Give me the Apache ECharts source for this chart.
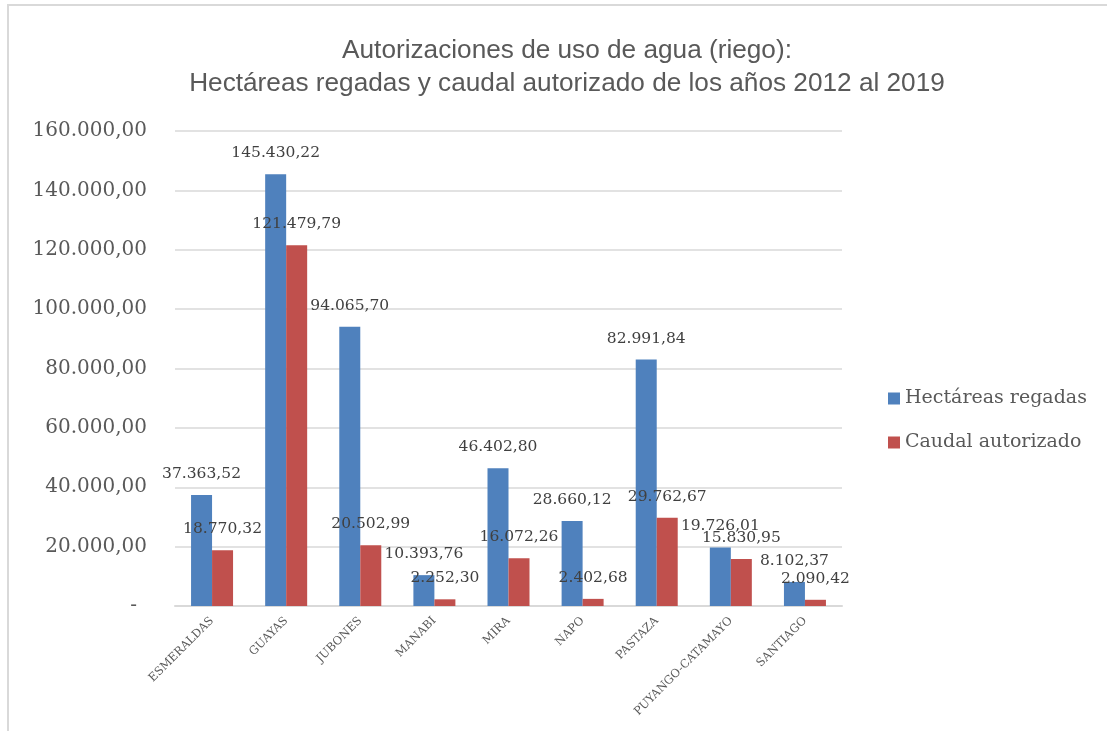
<!DOCTYPE html>
<html>
<head>
<meta charset="utf-8">
<script src="https://cdn.jsdelivr.net/npm/echarts@6/dist/echarts.min.js"></script>
<style>
  html, body { margin: 0; padding: 0; background: #fff; }
  #main { width: 1107px; height: 731px; }
</style>
</head>
<body>
<div id="main"></div>
<script>
// datos
var cuencas = ['ESMERALDAS', 'GUAYAS', 'JUBONES', 'MANABI', 'MIRA', 'NAPO', 'PASTAZA', 'PUYANGO-CATAMAYO', 'SANTIAGO'];
var hectareas = [37363.52, 145430.22, 94065.70, 10393.76, 46402.80, 28660.12, 82991.84, 19726.01, 8102.37];
var caudal = [18770.32, 121479.79, 20502.99, 2252.30, 16072.26, 2402.68, 29762.67, 15830.95, 2090.42];

var serif = 'DejaVu Serif';

// formato 145.430,22
function fmt(v) {
    var parts = v.toFixed(2).split('.');
    return parts[0].replace(/\B(?=(\d{3})+(?!\d))/g, '.') + ',' + parts[1];
}

var myChart = echarts.init(document.getElementById('main'));

var labelCfg = {
    show: true,
    position: 'top',
    distance: 13,
    color: '#404040',
    fontFamily: serif,
    fontSize: 15.5,
    lineHeight: 16,
    formatter: function (p) { return fmt(p.value); }
};

myChart.setOption({
    animation: false,
    backgroundColor: '#fff',
    title: {
        text: 'Autorizaciones de uso de agua (riego):\nHectáreas regadas y caudal autorizado de los años 2012 al 2019',
        left: 562,
        textAlign: 'center',
        top: 29,
        textStyle: {
            fontFamily: '"Liberation Sans Narrow", "Liberation Sans", sans-serif',
            fontWeight: 'normal',
            fontSize: 26.2,
            lineHeight: 33,
            color: '#595959'
        }
    },
    legend: {
        orient: 'vertical',
        left: 883,
        top: 384,
        itemWidth: 12,
        itemHeight: 12,
        itemGap: 25,
        icon: 'rect',
        textStyle: { fontFamily: serif, fontSize: 19, color: '#595959' },
        data: ['Hectáreas regadas', 'Caudal autorizado']
    },
    grid: { left: 175, right: 265, top: 131, bottom: 125 },
    xAxis: {
        type: 'category',
        data: cuencas,
        axisLine: { lineStyle: { color: '#D9D9D9', width: 2 } },
        axisTick: { show: false },
        axisLabel: {
            interval: 0,
            rotate: 45,
            margin: 13,
            fontFamily: serif,
            fontSize: 11.5,
            color: '#595959'
        }
    },
    yAxis: {
        type: 'value',
        min: 0,
        max: 160000,
        interval: 20000,
        axisLine: { show: false },
        axisTick: { show: false },
        splitLine: { lineStyle: { color: '#D9D9D9', width: 1.5 } },
        axisLabel: {
            margin: 28,
            fontFamily: serif,
            fontSize: 20,
            color: '#595959',
            formatter: function (v) { return v === 0 ? '-\u2002' : fmt(v); }
        }
    },
    graphic: [{
        type: 'rect',
        shape: { x: 8, y: 5, width: 1200, height: 800 },
        style: { fill: 'none', stroke: '#D9D9D9', lineWidth: 2 },
        silent: true
    }],
    series: [
        {
            name: 'Hectáreas regadas',
            type: 'bar',
            data: hectareas,
            barWidth: 21,
            barGap: '0%',
            itemStyle: { color: '#4F81BD' },
            label: labelCfg
        },
        {
            name: 'Caudal autorizado',
            type: 'bar',
            data: caudal,
            barWidth: 21,
            itemStyle: { color: '#C0504D' },
            label: labelCfg
        }
    ]
});
</script>
</body>
</html>
